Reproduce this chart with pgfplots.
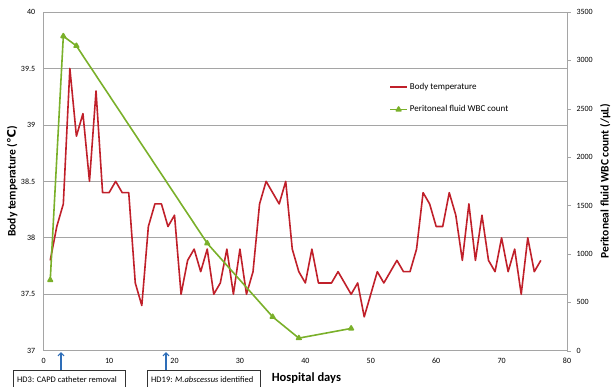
\documentclass[border=0pt]{standalone}
\usepackage{fontspec}
\setmainfont{Carlito}
\newfontfamily\dejavu{DejaVu Sans}
\usepackage{pgfplots}
\pgfplotsset{compat=1.18}
\usetikzlibrary{arrows.meta}
\definecolor{tempred}{RGB}{192,32,42}
\definecolor{wbcgreen}{RGB}{122,176,42}
\definecolor{arrowblue}{RGB}{46,110,184}
\definecolor{gridgray}{RGB}{165,165,165}
\begin{document}
\begin{tikzpicture}
\useasboundingbox (0,0) rectangle (612pt,386pt);
\begin{axis}[
  at={(43.7pt,35.3pt)}, anchor=south west,
  scale only axis, width=523.3pt, height=338.7pt,
  xmin=0, xmax=80, ymin=37, ymax=40,
  xtick={0,10,...,80}, ytick={37,37.5,...,40},
  ymajorgrids, grid style={gridgray, line width=0.8pt},
  axis y line*=left, axis x line*=bottom,
  axis line style={gridgray, line width=0.8pt, -},
  major tick length=0pt,
  tick label style={font=\fontsize{8}{9}\selectfont},
  /pgf/number format/assume math mode=true,
  /pgf/number format/1000 sep={},
  xticklabel style={yshift=-4pt},
  yticklabel style={xshift=-5pt},
  ylabel={Body temperature ({\dejavu\bfseries ℃})},
  ylabel style={at={(axis description cs:-0.060,0.5)}, anchor=center, font=\fontsize{11.5}{13}\selectfont\bfseries},
  xlabel={Hospital days},
  xlabel style={at={(axis description cs:0.502,-0.08)}, anchor=center, font=\fontsize{12.5}{14}\selectfont\bfseries},
]
\addplot[tempred, line width=1.6pt, line join=round, mark=none] coordinates {
(1,37.8)(2,38.1)(3,38.3)(4,39.5)(5,38.9)(6,39.1)(7,38.5)(8,39.3)(9,38.4)(10,38.4)
(11,38.5)(12,38.4)(13,38.4)(14,37.6)(15,37.4)(16,38.1)(17,38.3)(18,38.3)(19,38.1)(20,38.2)
(21,37.5)(22,37.8)(23,37.9)(24,37.7)(25,37.9)(26,37.5)(27,37.6)(28,37.9)(29,37.5)(30,37.9)
(31,37.5)(32,37.7)(33,38.3)(34,38.5)(35,38.4)(36,38.3)(37,38.5)(38,37.9)(39,37.7)(40,37.6)
(41,37.9)(42,37.6)(43,37.6)(44,37.6)(45,37.7)(46,37.6)(47,37.5)(48,37.6)(49,37.3)(50,37.5)
(51,37.7)(52,37.6)(53,37.7)(54,37.8)(55,37.7)(56,37.7)(57,37.9)(58,38.4)(59,38.3)(60,38.1)
(61,38.1)(62,38.4)(63,38.2)(64,37.8)(65,38.3)(66,37.8)(67,38.2)(68,37.8)(69,37.7)(70,38.0)
(71,37.7)(72,37.9)(73,37.5)(74,38.0)(75,37.7)(76,37.8)
};
\end{axis}
\begin{axis}[
  at={(43.7pt,35.3pt)}, anchor=south west,
  scale only axis, width=523.3pt, height=338.7pt,
  xmin=0, xmax=80, ymin=0, ymax=3500,
  ytick={0,500,...,3500},
  axis y line*=right, axis x line=none,
  axis line style={gridgray, line width=0.8pt, -},
  ytick pos=right, tick align=outside,
  major tick length=4pt,
  every tick/.style={gridgray},
  tick label style={font=\fontsize{8}{9}\selectfont},
  /pgf/number format/assume math mode=true,
  /pgf/number format/1000 sep={},
  yticklabel style={xshift=2pt},
  ylabel={Peritoneal fluid WBC count (/μL)},
  ylabel style={at={(axis description cs:1.073,0.5)}, anchor=center, rotate=0, font=\fontsize{11.5}{13}\selectfont\bfseries},
  legend style={draw=none, fill=none, at={(0.66,0.797)}, anchor=north west,
    font=\fontsize{9}{10}\selectfont, row sep=11pt, inner sep=0pt},
  legend cell align=left,
]
\addlegendimage{tempred, line width=1.6pt}
\addlegendentry{Body temperature}
\addplot[wbcgreen, line width=1.6pt, line join=round, mark=triangle*, mark size=2.6pt, mark options={fill=wbcgreen}] coordinates {
(1,730)(3,3250)(5,3150)(25,1110)(35,350)(39,130)(47,230)
};
\addlegendentry{Peritoneal fluid WBC count}
\end{axis}
\draw[black!80, line width=0.6pt] (13pt,-6pt) rectangle (125pt,16pt);
\node[anchor=west, font=\fontsize{8.5}{9}\selectfont, inner sep=0pt] at (17pt,6pt) {HD3: CAPD catheter removal};
\draw[black!80, line width=0.6pt] (147pt,-6pt) rectangle (260pt,16pt);
\node[anchor=west, font=\fontsize{8.5}{9}\selectfont, inner sep=0pt] at (151pt,6pt) {HD19: \textit{M.abscessus} identified};
\draw[arrowblue, line width=1.2pt, -{Straight Barb[length=3pt,width=6pt]}] (61pt,16pt) -- (61pt,34pt);
\draw[arrowblue, line width=1.2pt, -{Straight Barb[length=3pt,width=6pt]}] (166pt,16pt) -- (166pt,34pt);
\end{tikzpicture}
\end{document}
